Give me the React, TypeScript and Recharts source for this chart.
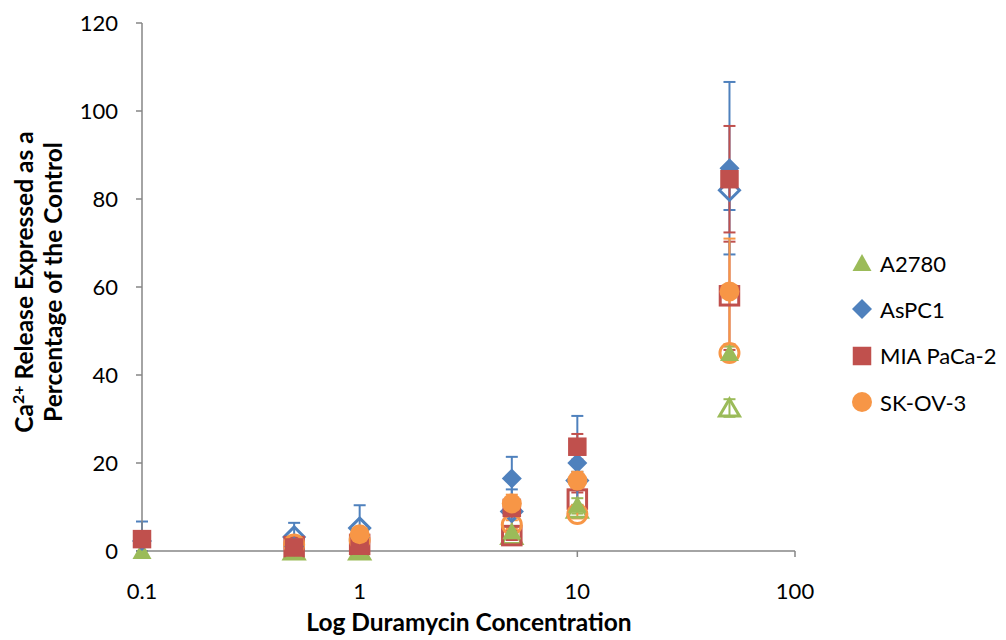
import { ScatterChart, Scatter, XAxis, YAxis, ErrorBar, Label } from 'recharts';

const concentrations = [0.1, 0.5, 1, 5, 10, 50];
const xTicks = [0.1, 1, 10, 100];
const yTicks = [0, 20, 40, 60, 80, 100, 120];

const seriesNames = ['A2780', 'AsPC1', 'MIA PaCa-2', 'SK-OV-3'];
const seriesColors = ['#9BBB59', '#4F81BD', '#C0504D', '#F79646'];
const seriesShapes = ['triangle', 'diamond', 'square', 'circle'];

type Err = number | [number, number];

// filled markers (the legend series); null = no point
const a2780 = [0, 0, 0, 4.5, 10.5, 45];
const a2780Err: Err[] = [0, 0, 0, 1, 1.5, 1.5];
const aspc1 = [2.3, 1, 3, 16.5, 20, 87];
const aspc1Err: Err[] = [[2.3, 4.4], 1, 1.5, 4.9, 10.7, 19.6];
const miaPaca2 = [2.7, 0.8, 1.2, 9.8, 23.7, 84.5];
const miaPaca2Err: Err[] = [1, 0.5, 1, 2, 2.9, 12.1];
const skov3 = [null, null, 3.8, 10.8, 16, 59];
const skov3Err: Err[] = [0, 0, 1.5, 2, 2, 12];

// open markers (second set, no legend entry)
const a2780Open = [null, 0, 0, 3.5, 9.5, 32.5];
const a2780OpenErr: Err[] = [0, 0, 0, 1, 1, 2];
const aspc1Open = [null, 3.2, 5.2, 9, 16, 82];
const aspc1OpenErr: Err[] = [0, 3.2, 5.2, 5, 2, 4.5];
const miaPaca2Open = [null, 1, 1.5, 3.5, 11.8, 58];
const miaPaca2OpenErr: Err[] = [0, 0.5, 1, 1, 1.5, 12.3];
const skov3Open = [null, 1.5, 2.5, 6, 8.4, 45];
const skov3OpenErr: Err[] = [0, 1, 1, 1, 1, 1.5];

const filledValues = [a2780, aspc1, miaPaca2, skov3];
const filledErrors = [a2780Err, aspc1Err, miaPaca2Err, skov3Err];
const openValues = [a2780Open, aspc1Open, miaPaca2Open, skov3Open];
const openErrors = [a2780OpenErr, aspc1OpenErr, miaPaca2OpenErr, skov3OpenErr];

const toRows = (ys: (number | null)[], errs: Err[]) =>
  concentrations
    .map((x, i) => ({ x, y: ys[i], err: errs[i] }))
    .filter((r) => r.y !== null);

const AXIS = '#868686';
const FONT = 'Lato, "Open Sans", sans-serif';

function Marker({ cx, cy, shape, color, open }: { cx: number; cy: number; shape: string; color: string; open?: boolean }) {
  const fill = open ? 'none' : color;
  const stroke = open ? color : 'none';
  const sw = open ? 3 : 0;
  if (shape === 'circle') {
    return <circle cx={cx} cy={cy} r={open ? 9.5 : 10} fill={fill} stroke={stroke} strokeWidth={sw} />;
  }
  if (shape === 'square') {
    const s = 18.5;
    return <rect x={cx - s / 2} y={cy - s / 2} width={s} height={s} fill={fill} stroke={stroke} strokeWidth={sw} />;
  }
  if (shape === 'diamond') {
    const r = 10;
    return (
      <polygon
        points={`${cx},${cy - r} ${cx + r},${cy} ${cx},${cy + r} ${cx - r},${cy}`}
        fill={fill}
        stroke={stroke}
        strokeWidth={sw}
      />
    );
  }
  // triangle
  const w = open ? 10 : 9.5;
  return (
    <polygon
      points={`${cx},${cy - 9} ${cx + w},${cy + 8} ${cx - w},${cy + 8}`}
      fill={fill}
      stroke={stroke}
      strokeWidth={sw}
    />
  );
}

function YTitle() {
  return (
    <text transform="translate(0,282) rotate(-90)" textAnchor="middle" fontFamily={FONT} fontWeight="bold" fontSize={24.5} fill="#000">
      <tspan x={0} y={33}>
        Ca
        <tspan fontSize={16} dy={-9}>2+</tspan>
        <tspan dy={9}> Release Expressed as a</tspan>
      </tspan>
      <tspan x={0} y={62}>Percentage of the Control</tspan>
    </text>
  );
}

export default function App() {
  return (
    <div style={{ position: 'absolute', left: 0, top: 0, width: 1006, height: 640 }}>
      <ScatterChart width={1006} height={640} margin={{ top: 23, right: 211, bottom: 0, left: 0 }}>
        <XAxis
          type="number"
          dataKey="x"
          scale="log"
          domain={[0.1, 100]}
          ticks={xTicks}
          height={89}
          tickSize={6}
          tickMargin={26}
          axisLine={{ stroke: AXIS, strokeWidth: 1.5 }}
          tickLine={{ stroke: AXIS, strokeWidth: 1.5 }}
          tick={{ fill: '#000', fontSize: 22, fontFamily: FONT }}
        >
          <Label
            content={() => (
              <text x={469} y={631} textAnchor="middle" fontFamily={FONT} fontWeight="bold" fontSize={24.5} fill="#000">
                Log Duramycin Concentration
              </text>
            )}
          />
        </XAxis>
        <YAxis
          type="number"
          dataKey="y"
          domain={[0, 120]}
          ticks={yTicks}
          width={142}
          tickSize={6}
          tickMargin={18}
          axisLine={{ stroke: AXIS, strokeWidth: 1.5 }}
          tickLine={{ stroke: AXIS, strokeWidth: 1.5 }}
          tick={{ fill: '#000', fontSize: 22, fontFamily: FONT }}
        >
          <Label content={() => <YTitle />} />
        </YAxis>
        {openValues.map((vals, i) => (
          <Scatter
            key={`open-${i}`}
            name={`${seriesNames[i]} (open)`}
            data={toRows(vals, openErrors[i])}
            legendType="none"
            isAnimationActive={false}
            shape={(p: any) => <Marker cx={p.cx} cy={p.cy} shape={seriesShapes[i]} color={seriesColors[i]} open />}
          >
            <ErrorBar dataKey="err" direction="y" width={6} stroke={seriesColors[i]} strokeWidth={2} />
          </Scatter>
        ))}
        {filledValues.map((vals, i) => (
          <Scatter
            key={`filled-${i}`}
            name={seriesNames[i]}
            data={toRows(vals, filledErrors[i])}
            isAnimationActive={false}
            shape={(p: any) => <Marker cx={p.cx} cy={p.cy} shape={seriesShapes[i]} color={seriesColors[i]} />}
          >
            <ErrorBar dataKey="err" direction="y" width={6} stroke={seriesColors[i]} strokeWidth={2} />
          </Scatter>
        ))}
      </ScatterChart>
      <div style={{ position: 'absolute', left: 852, top: 240, fontFamily: FONT, fontSize: 22, color: '#000' }}>
        {seriesNames.map((name, i) => (
          <div key={name} style={{ height: 46.3, display: 'flex', alignItems: 'center' }}>
            <svg width={20} height={20} style={{ flex: 'none' }}>
              <Marker cx={10} cy={10} shape={seriesShapes[i]} color={seriesColors[i]} />
            </svg>
            <span style={{ marginLeft: 8, whiteSpace: 'nowrap' }}>{name}</span>
          </div>
        ))}
      </div>
    </div>
  );
}
